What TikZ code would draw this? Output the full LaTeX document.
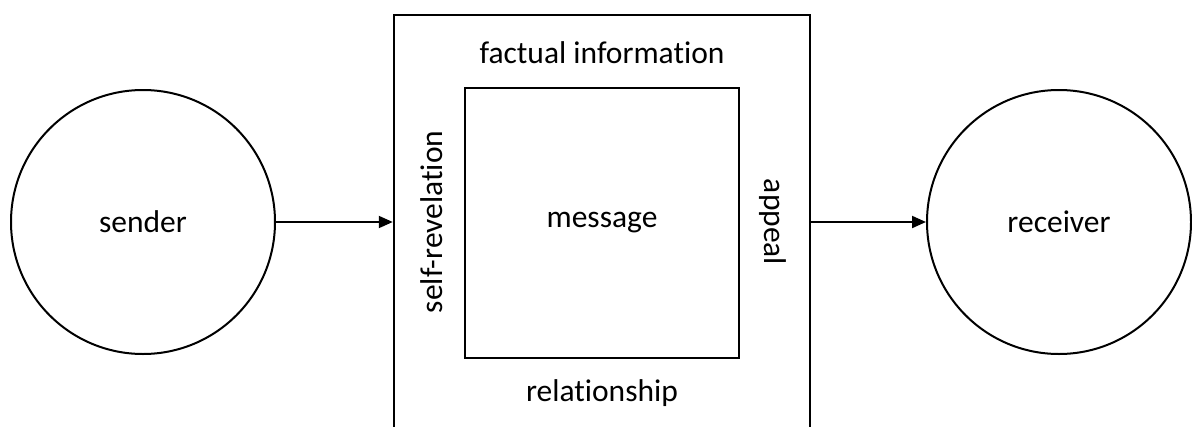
\documentclass[tikz,border=0pt]{standalone}
\usepackage{fontspec}
\setmainfont{Carlito}[Ligatures=NoCommon]
\usetikzlibrary{positioning,arrows.meta}

\begin{document}
\begin{tikzpicture}[x=1pt, y=-1pt,
    roundnode/.style={circle, draw=black, line width=2pt, minimum size=264pt, inner sep=0pt},
    boxnode/.style={rectangle, draw=black, line width=2.5pt, inner sep=0pt},
    sidetext/.style={inner sep=0pt},
    font=\fontsize{31.5}{36}\selectfont]
    \useasboundingbox (0,0) rectangle (1192,426);
    \clip (0,0) rectangle (1192,426);
    %Nodes
    \node[roundnode]   (sender)    at (143,222)   {sender};
    \node[roundnode]   (receiver)  at (1059,222)  {receiver};
    \node[boxnode, minimum width=416pt, minimum height=425pt]  (outer)  at (602,227.5) {};
    \node[boxnode, minimum width=274pt, minimum height=270pt]  (inner)  at (602,223)   {message};
    \node[sidetext]    (fact)      at (602,53)    {factual information};
    \node[sidetext]    (relation)  at (602,393)   {relationship};
    \node[sidetext, rotate=90]   (self)    at (432,222)  {self-revelation};
    \node[sidetext, rotate=-90]  (appeal)  at (773,222)  {appeal};
    %Arrows
    \draw[-{Triangle[length=14pt,width=12pt]}, line width=2pt] (sender.east) -- (sender.east -| outer.west);
    \draw[-{Triangle[length=14pt,width=12pt]}, line width=2pt] (receiver.west -| outer.east) -- (receiver.west);
\end{tikzpicture}
\end{document}
